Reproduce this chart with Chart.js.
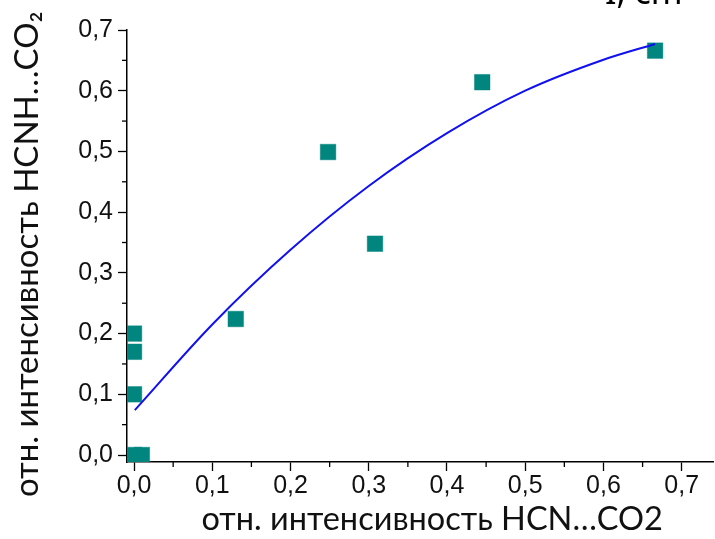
<!DOCTYPE html>
<html>
<head>
<meta charset="utf-8">
<script src="https://cdn.jsdelivr.net/npm/chart.js@4"></script>
<style>
  body { margin: 0; background: #fff; }
  #wrap { width: 715px; height: 539px; }
</style>
</head>
<body>
<div id="wrap"><canvas id="myChart"></canvas></div>
<script>

// measured points (x = HCN...CO2, y = HCNH...CO2)
let pointsX = [0.0, 0.0, 0.0, 0.0, 0.010, 0.130, 0.248, 0.308, 0.445, 0.666];
let pointsY = [0.200, 0.170, 0.100, 0.0, 0.0, 0.224, 0.499, 0.348, 0.614, 0.666];

// fit curve
let fitX = [0.001, 0.1, 0.2, 0.3, 0.4, 0.5, 0.6, 0.666];
let fitY = [0.074, 0.215, 0.338, 0.443, 0.530, 0.600, 0.651, 0.677];

let minorTicks = [0.05, 0.15, 0.25, 0.35, 0.45, 0.55, 0.65];

let ctx = document.getElementById('myChart');

function comma(v)
{
    return v.toFixed(1).replace('.', ',');
}

// small minor ticks between the labelled ones
const minorPlugin = {
    id: 'minor',
    afterDraw(chart) {
        const c = chart.ctx;
        const xs = chart.scales.x, ys = chart.scales.y;
        c.save();
        c.strokeStyle = '#000';
        c.lineWidth = 1.3;
        for (let v of minorTicks) {
            let px = xs.getPixelForValue(v);
            c.beginPath(); c.moveTo(px, xs.top); c.lineTo(px, xs.top + 5); c.stroke();
            let py = ys.getPixelForValue(v);
            c.beginPath(); c.moveTo(ys.right, py); c.lineTo(ys.right - 5, py); c.stroke();
        }
        // cut-off caption at the top edge
        c.fillStyle = '#000';
        c.font = '34px "Noto Sans"';
        c.textBaseline = 'alphabetic';
        c.fillText('I, cm', 605, 4);
        c.restore();
    }
};

let chart_cfg = {
    type: 'scatter',
    data: {
      datasets: [{
        label: 'fit',
        type: 'line',
        data: fitX.map((x, i) => ({x: x, y: fitY[i]})),
        borderColor: '#1010f0',
        borderWidth: 2,
        pointRadius: 0,
        tension: 0.4,
        cubicInterpolationMode: 'monotone',
        fill: false
      },{
        label: 'points',
        data: pointsX.map((x, i) => ({x: x, y: pointsY[i]})),
        pointStyle: 'rect',
        pointRadius: 11,
        backgroundColor: '#00857f',
        borderColor: 'rgba(0,133,127,0.45)',
        borderWidth: 1
      }]
    },
    options: {
      responsive: true,
      maintainAspectRatio: false,
      animation: false,
      layout: { autoPadding: false, padding: { top: 30, right: 2, left: 0, bottom: 0 } },
      plugins: { legend: { display: false }, tooltip: { enabled: false } },
      scales: {
        x: {
          type: 'linear',
          min: -0.009,
          max: 0.74,
          afterFit: (s) => { s.height = 77; },
          border: { display: true, color: '#000', width: 1.5 },
          grid: { drawOnChartArea: false, drawTicks: true, tickLength: 9, color: '#000', tickWidth: 1.3 },
          ticks: {
            stepSize: 0.1,
            includeBounds: false,
            color: '#111',
            font: { family: '"Liberation Sans", Arial', size: 25 },
            padding: 0,
            maxRotation: 0,
            callback: (v) => comma(v)
          },
          title: {
            display: true,
            text: '\u2003отн. интенсивность HCN…CO2',
            color: '#111',
            font: { family: 'Lato, "Noto Sans"', size: 32.5 },
            padding: { top: 0, bottom: 0 }
          }
        },
        y: {
          type: 'linear',
          min: -0.0115,
          max: 0.7,
          afterFit: (s) => { s.width = 127; },
          border: { display: true, color: '#000', width: 1.5 },
          grid: { drawOnChartArea: false, drawTicks: true, tickLength: 9, color: '#000', tickWidth: 1.3 },
          ticks: {
            stepSize: 0.1,
            includeBounds: false,
            color: '#111',
            font: { family: '"Liberation Sans", Arial', size: 25 },
            padding: 5,
            callback: (v) => comma(v)
          },
          title: {
            display: true,
            text: 'отн. интенсивность HCNH…CO₂\u2002',
            color: '#111',
            font: { family: 'Lato, "Noto Sans"', size: 33 },
            padding: { top: 8, bottom: 0 }
          }
        }
      }
    },
    plugins: [minorPlugin]
};

const myChart = new Chart(ctx, chart_cfg);
</script>
</body>
</html>
